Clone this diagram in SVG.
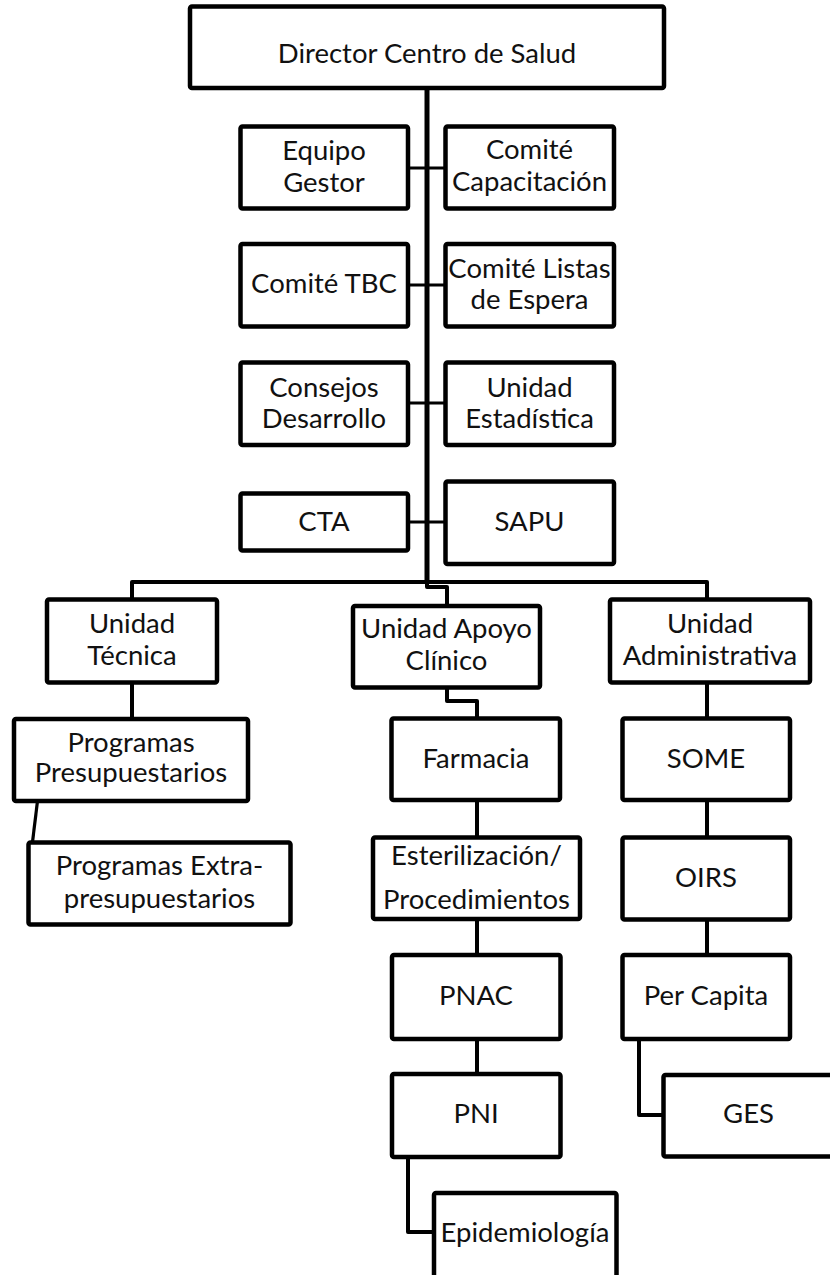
<svg xmlns="http://www.w3.org/2000/svg" width="830" height="1275" viewBox="0 0 830 1275">
<style>
.box{fill:#fff;stroke:#000;stroke-width:4.5;stroke-linejoin:round}
.t{font-family:Lato,"Open Sans","Liberation Sans",sans-serif;font-size:27.5px;fill:#111;text-anchor:middle}
.c{fill:none;stroke:#000;stroke-width:4;stroke-linejoin:round}
.cs{fill:none;stroke:#000;stroke-width:3.2}
.trunk{fill:none;stroke:#000;stroke-width:5}
</style>
<rect width="830" height="1275" fill="#fff"/>
<g id="connectors">
<path class="trunk" d="M427,88 V584"/>
<path class="c" d="M427,582 V587 H447 V606"/>
<path class="cs" d="M408,168 H446"/>
<path class="cs" d="M408,285 H446"/>
<path class="cs" d="M408,403 H446"/>
<path class="cs" d="M408,522 H446"/>
<path class="c" d="M132,599 V582 H707 V599"/>
<path class="c" d="M132,682 V719"/>
<path class="cs" d="M37.5,801 L32.5,842"/>
<path class="c" d="M447,687 V701 H477 V719"/>
<path class="c" d="M477,800 V838"/>
<path class="c" d="M477,919 V955"/>
<path class="c" d="M477,1039 V1074"/>
<path class="c" d="M408,1157 V1232 H434"/>
<path class="c" d="M707,682 V719"/>
<path class="c" d="M707,800 V838"/>
<path class="c" d="M707,919 V955"/>
<path class="c" d="M639,1039 V1115 H664"/>
</g>
<g id="director"><rect class="box" x="190" y="6.5" width="474" height="81.5" rx="2"/><text class="t" x="427" y="63">Director Centro de Salud</text></g>
<g id="equipo"><rect class="box" x="240.5" y="126.5" width="167.5" height="82" rx="2"/><text class="t" x="324" y="160">Equipo</text><text class="t" x="324" y="192">Gestor</text></g>
<g id="capacitacion"><rect class="box" x="445.5" y="126.5" width="168.5" height="82" rx="2"/><text class="t" x="529.5" y="159">Comité</text><text class="t" x="529.5" y="191">Capacitación</text></g>
<g id="tbc"><rect class="box" x="240.5" y="244" width="167.5" height="82.5" rx="2"/><text class="t" x="324" y="293">Comité TBC</text></g>
<g id="listas"><rect class="box" x="445.5" y="244" width="168.5" height="82.5" rx="2"/><text class="t" x="529.5" y="278">Comité Listas</text><text class="t" x="529.5" y="309">de Espera</text></g>
<g id="consejos"><rect class="box" x="240.5" y="362.5" width="167.5" height="82.5" rx="2"/><text class="t" x="324" y="397">Consejos</text><text class="t" x="324" y="428">Desarrollo</text></g>
<g id="estadistica"><rect class="box" x="445.5" y="362.5" width="168.5" height="82.5" rx="2"/><text class="t" x="529.5" y="397">Unidad</text><text class="t" x="529.5" y="428">Estadística</text></g>
<g id="cta"><rect class="box" x="240.5" y="493.5" width="167.5" height="57" rx="2"/><text class="t" x="324" y="531">CTA</text></g>
<g id="sapu"><rect class="box" x="445.5" y="481.5" width="168.5" height="82.5" rx="2"/><text class="t" x="529.5" y="531">SAPU</text></g>
<g id="tecnica"><rect class="box" x="47" y="599.5" width="170" height="83" rx="2"/><text class="t" x="132" y="633">Unidad</text><text class="t" x="132" y="665">Técnica</text></g>
<g id="apoyo"><rect class="box" x="353" y="606" width="187" height="81.5" rx="2"/><text class="t" x="446.5" y="638">Unidad Apoyo</text><text class="t" x="446.5" y="670">Clínico</text></g>
<g id="administrativa"><rect class="box" x="610" y="599.5" width="200" height="83" rx="2"/><text class="t" x="710" y="633">Unidad</text><text class="t" x="710" y="665">Administrativa</text></g>
<g id="presupuestarios"><rect class="box" x="14" y="719" width="234" height="82" rx="2"/><text class="t" x="131" y="752">Programas</text><text class="t" x="131" y="782">Presupuestarios</text></g>
<g id="extra"><rect class="box" x="28.5" y="842.5" width="262" height="82" rx="2"/><text class="t" x="159.5" y="875">Programas Extra-</text><text class="t" x="159.5" y="908">presupuestarios</text></g>
<g id="farmacia"><rect class="box" x="391.5" y="718.5" width="168.5" height="81.5" rx="2"/><text class="t" x="476" y="768">Farmacia</text></g>
<g id="esterilizacion"><rect class="box" x="373" y="837.5" width="207" height="81.5" rx="2"/><text class="t" x="476.5" y="865">Esterilización/</text><text class="t" x="476.5" y="909">Procedimientos</text></g>
<g id="pnac"><rect class="box" x="392" y="955" width="168.5" height="84" rx="2"/><text class="t" x="476" y="1005">PNAC</text></g>
<g id="pni"><rect class="box" x="392" y="1074" width="168.5" height="83" rx="2"/><text class="t" x="476" y="1123">PNI</text></g>
<g id="epidemiologia"><rect class="box" x="434" y="1193" width="182.5" height="90" rx="2"/><text class="t" x="525" y="1242">Epidemiología</text></g>
<g id="some"><rect class="box" x="622.5" y="718.5" width="167.5" height="81.5" rx="2"/><text class="t" x="706" y="768">SOME</text></g>
<g id="oirs"><rect class="box" x="622.5" y="837.5" width="167.5" height="82" rx="2"/><text class="t" x="706" y="887">OIRS</text></g>
<g id="percapita"><rect class="box" x="622.5" y="955" width="167.5" height="84" rx="2"/><text class="t" x="706" y="1005">Per Capita</text></g>
<g id="ges"><rect class="box" x="663.5" y="1075" width="170" height="81.5" rx="2"/><text class="t" x="748.5" y="1123">GES</text></g>
</svg>
